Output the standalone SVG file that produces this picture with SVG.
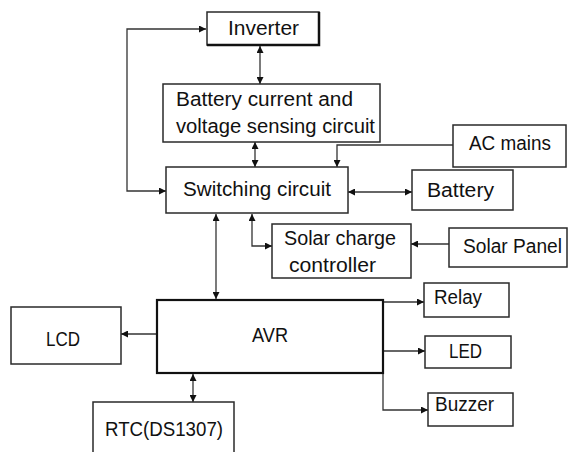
<svg xmlns="http://www.w3.org/2000/svg" width="568" height="452" viewBox="0 0 568 452">
<style>
.box{fill:#fff;stroke:#2a2a2a;stroke-width:1.5}
.thick{fill:#fff;stroke:#111;stroke-width:2.2}
.lbl{font-family:"Liberation Sans",Arial,sans-serif;font-size:19.5px;fill:#111}
.c{fill:none;stroke:#333;stroke-width:1.3}
</style>
<defs>
<marker id="ah" viewBox="0 0 10 10" refX="10" refY="5" markerWidth="8" markerHeight="7" markerUnits="userSpaceOnUse" orient="auto-start-reverse">
<path d="M0,0 L10,5 L0,10 Z" fill="#111"/>
</marker>
</defs>
<rect width="568" height="452" fill="#fff"/>
<g id="connectors">
<line class="c" x1="260" y1="46" x2="260" y2="84" marker-start="url(#ah)" marker-end="url(#ah)"/>
<path class="c" d="M206,29 H127 V191 H166" marker-start="url(#ah)" marker-end="url(#ah)"/>
<line class="c" x1="255" y1="142" x2="255" y2="167" marker-start="url(#ah)" marker-end="url(#ah)"/>
<path class="c" d="M453,145 H337 V167" marker-end="url(#ah)"/>
<line class="c" x1="348" y1="192" x2="412" y2="192" marker-start="url(#ah)" marker-end="url(#ah)"/>
<line class="c" x1="449" y1="244" x2="411" y2="244" marker-end="url(#ah)"/>
<line class="c" x1="216" y1="214" x2="216" y2="299" marker-start="url(#ah)" marker-end="url(#ah)"/>
<path class="c" d="M252,214 V246 H272" marker-start="url(#ah)" marker-end="url(#ah)"/>
<line class="c" x1="157" y1="334" x2="121" y2="334" marker-end="url(#ah)"/>
<line class="c" x1="193" y1="374" x2="193" y2="402" marker-start="url(#ah)" marker-end="url(#ah)"/>
<path class="c" d="M383,302 H424" marker-end="url(#ah)"/>
<path class="c" d="M383,351 H425" marker-end="url(#ah)"/>
<path class="c" d="M383,373 V410 H428" marker-end="url(#ah)"/>
</g>
<g id="inverter">
<rect class="box" x="207" y="12" width="112" height="33"/>
<path d="M319,12 V45 H207" fill="none" stroke="#111" stroke-width="2.5"/>
<text class="lbl" x="228" y="35" textLength="71" lengthAdjust="spacingAndGlyphs">Inverter</text>
</g>
<g id="sensing">
<rect class="box" x="163" y="84" width="217" height="58"/>
<text class="lbl" x="176" y="106" textLength="177" lengthAdjust="spacingAndGlyphs">Battery current and</text>
<text class="lbl" x="176" y="133" textLength="199" lengthAdjust="spacingAndGlyphs">voltage sensing circuit</text>
</g>
<g id="switching">
<rect class="box" x="166" y="167" width="182" height="46"/>
<text class="lbl" x="183" y="196" textLength="148" lengthAdjust="spacingAndGlyphs">Switching circuit</text>
</g>
<g id="acmains">
<rect class="box" x="453" y="125" width="113" height="42"/>
<text class="lbl" x="469" y="150" textLength="82" lengthAdjust="spacingAndGlyphs">AC mains</text>
</g>
<g id="battery">
<rect class="box" x="412" y="170" width="101" height="40"/>
<text class="lbl" x="427" y="197" textLength="67" lengthAdjust="spacingAndGlyphs">Battery</text>
</g>
<g id="solarcharge">
<rect class="box" x="272" y="224" width="139" height="54"/>
<text class="lbl" x="284" y="245" textLength="112" lengthAdjust="spacingAndGlyphs">Solar charge</text>
<text class="lbl" x="289" y="272" textLength="87" lengthAdjust="spacingAndGlyphs">controller</text>
</g>
<g id="solarpanel">
<rect class="box" x="449" y="228" width="118" height="39"/>
<text class="lbl" x="463" y="253" textLength="99" lengthAdjust="spacingAndGlyphs">Solar Panel</text>
</g>
<g id="avr">
<rect class="thick" x="157" y="300" width="226" height="73"/>
<text class="lbl" x="252" y="342" textLength="36" lengthAdjust="spacingAndGlyphs">AVR</text>
</g>
<g id="lcd">
<rect class="box" x="11" y="307" width="110" height="57"/>
<text class="lbl" x="46" y="346" textLength="34" lengthAdjust="spacingAndGlyphs">LCD</text>
</g>
<g id="rtc">
<rect class="box" x="93" y="402" width="141" height="60"/>
<text class="lbl" x="105" y="436" textLength="118" lengthAdjust="spacingAndGlyphs">RTC(DS1307)</text>
</g>
<g id="relay">
<rect class="box" x="424" y="283" width="85" height="34"/>
<text class="lbl" x="434" y="304" textLength="48" lengthAdjust="spacingAndGlyphs">Relay</text>
</g>
<g id="led">
<rect class="box" x="425" y="336" width="86" height="32"/>
<text class="lbl" x="449" y="358" textLength="33" lengthAdjust="spacingAndGlyphs">LED</text>
</g>
<g id="buzzer">
<rect class="box" x="428" y="393" width="85" height="33"/>
<text class="lbl" x="435" y="411" textLength="59" lengthAdjust="spacingAndGlyphs">Buzzer</text>
</g>
</svg>
